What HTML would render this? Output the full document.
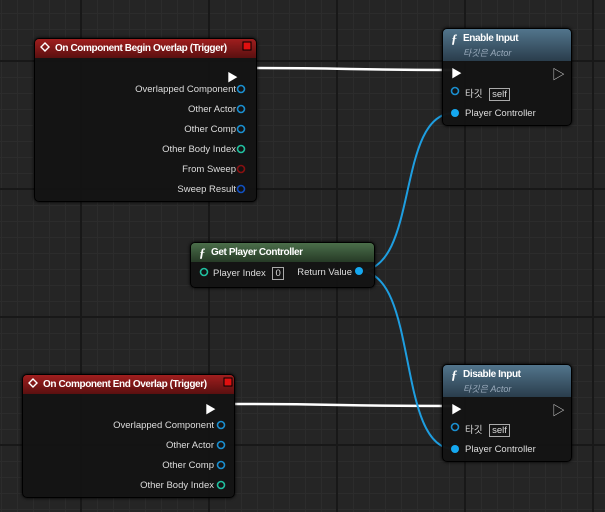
<!DOCTYPE html><html><head><meta charset="utf-8"><style>
body{margin:0;width:605px;height:512px;overflow:hidden;background:#252525;font-family:"Liberation Sans","Noto Sans CJK KR",sans-serif;}
#bg{position:absolute;left:0;top:0;width:605px;height:512px;
background-image:linear-gradient(#181818 0 2px,transparent 2px),linear-gradient(90deg,#181818 0 2px,transparent 2px),linear-gradient(#2c2c2c 0 1px,transparent 1px),linear-gradient(90deg,#2c2c2c 0 1px,transparent 1px);
background-size:128px 128px,128px 128px,16px 16px,16px 16px;background-position:0 60px,80px 0,0 13px,1px 0;}
.n{position:absolute;background:rgba(20,20,20,.97);border:1px solid #000;border-radius:5px;box-shadow:0 0 3px #000;}
.h{height:19px;border-radius:4px 4px 0 0;color:#fff;font-weight:bold;font-size:10px;letter-spacing:-0.4px;line-height:19px;padding-left:20px;position:relative;white-space:nowrap;}
.red{background:linear-gradient(#a01e1e,#5a1010);}
.blu{background:linear-gradient(#52758c,#2a3d4c);height:32px;}
.grn{background:linear-gradient(#4b6e4a,#263a26);}
.t{position:absolute;color:#ddd;font-size:9.5px;white-space:nowrap;}
.sub{position:absolute;left:20px;top:15px;font-size:9px;font-weight:normal;color:#9ab;font-style:italic;letter-spacing:0}
.f{position:absolute;left:8px;top:0;font-style:italic;font-family:"Liberation Serif",serif;font-size:13px;}
.box{border:1px solid #aaa;padding:0 2px;margin-left:4px;}
</style></head><body><div id="bg"></div>
<svg width="605" height="512" style="position:absolute;left:0;top:0">
<path d="M256 68 C350 68,350 70,452 70" stroke="#fff" stroke-width="2.5" fill="none"/>
<path d="M234 404 C340 404,340 406,452 406" stroke="#fff" stroke-width="2.5" fill="none"/>
<path d="M359 271 C420 271,395 113,454 113" stroke="#1e9ee0" stroke-width="2" fill="none"/>
<path d="M359 271 C420 271,395 449,454 449" stroke="#1e9ee0" stroke-width="2" fill="none"/>
</svg>
<div class="n" style="left:34px;top:38px;width:221px;height:162px">
<div class="h red">On Component Begin Overlap (Trigger)</div>
<div class="t" style="right:18px;top:30px;font-size:11px;color:#fff">▶</div>
<div class="t" style="right:20px;top:45px">Overlapped Component</div>
<div class="t" style="right:20px;top:65px">Other Actor</div>
<div class="t" style="right:20px;top:85px">Other Comp</div>
<div class="t" style="right:20px;top:105px">Other Body Index</div>
<div class="t" style="right:20px;top:125px">From Sweep</div>
<div class="t" style="right:20px;top:145px">Sweep Result</div>
</div>
<div class="n" style="left:22px;top:374px;width:211px;height:122px">
<div class="h red">On Component End Overlap (Trigger)</div>
<div class="t" style="right:18px;top:26px;font-size:11px;color:#fff">▶</div>
<div class="t" style="right:20px;top:45px">Overlapped Component</div>
<div class="t" style="right:20px;top:65px">Other Actor</div>
<div class="t" style="right:20px;top:85px">Other Comp</div>
<div class="t" style="right:20px;top:105px">Other Body Index</div>
</div>
<div class="n" style="left:442px;top:28px;width:128px;height:96px">
<div class="h blu"><span class="f">ƒ</span>Enable Input<span class="sub">타깃은 Actor</span></div>
<div class="t" style="left:8px;top:36px;font-size:11px;color:#fff">▶</div>
<div class="t" style="right:6px;top:35px;font-size:13px;color:#ccc">▷</div>
<div class="t" style="left:22px;top:57px">타깃 <span class="box">self</span></div>
<div class="t" style="left:22px;top:79px">Player Controller</div>
</div>
<div class="n" style="left:442px;top:364px;width:128px;height:96px">
<div class="h blu"><span class="f">ƒ</span>Disable Input<span class="sub">타깃은 Actor</span></div>
<div class="t" style="left:8px;top:36px;font-size:11px;color:#fff">▶</div>
<div class="t" style="right:6px;top:35px;font-size:13px;color:#ccc">▷</div>
<div class="t" style="left:22px;top:57px">타깃 <span class="box">self</span></div>
<div class="t" style="left:22px;top:79px">Player Controller</div>
</div>
<div class="n" style="left:190px;top:242px;width:183px;height:44px">
<div class="h grn"><span class="f">ƒ</span>Get Player Controller</div>
<div class="t" style="left:22px;top:25px">Player Index <span class="box">0</span></div>
<div class="t" style="right:22px;top:24px">Return Value</div>
</div>
<svg width="605" height="512" style="position:absolute;left:0;top:0" fill="none" stroke-width="1.6">
<g stroke="#1a8fd0"><circle cx="241" cy="89" r="3.5"/><circle cx="241" cy="109" r="3.5"/><circle cx="241" cy="129" r="3.5"/><circle cx="221" cy="425" r="3.5"/><circle cx="221" cy="445" r="3.5"/><circle cx="221" cy="465" r="3.5"/><circle cx="455" cy="91" r="3.5"/><circle cx="455" cy="427" r="3.5"/></g>
<g stroke="#20c0a0"><circle cx="241" cy="149" r="3.5"/><circle cx="221" cy="485" r="3.5"/><circle cx="204" cy="272" r="3.5"/></g>
<circle cx="241" cy="169" r="3.5" stroke="#8a1010"/>
<circle cx="241" cy="189" r="3.5" stroke="#1050c0"/>
<g fill="#15a8f0"><circle cx="455" cy="113" r="4"/><circle cx="455" cy="449" r="4"/><circle cx="359" cy="271" r="4"/></g>
<rect x="243" y="42" width="8" height="8" fill="#e01010" stroke="#000" stroke-width="1"/>
<rect x="224" y="378" width="8" height="8" fill="#e01010" stroke="#000" stroke-width="1"/>
<g stroke="#fff" stroke-width="1.4"><path d="M45 43 l4 4 -4 4 -4 -4z"/><path d="M33 379 l4 4 -4 4 -4 -4z"/></g>
</svg>
</body></html>
